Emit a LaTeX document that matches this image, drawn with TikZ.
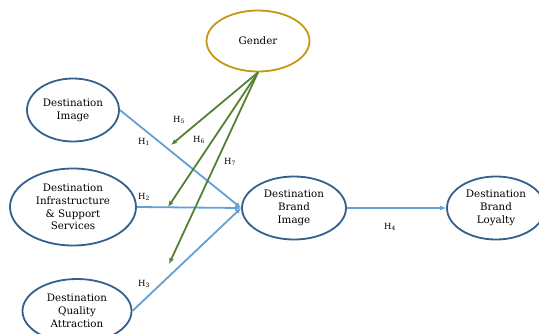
\documentclass[tikz,border=0pt]{standalone}
\usepackage{fontspec}
\setmainfont{DejaVu Serif}
\usetikzlibrary{shapes.geometric,arrows.meta}
\definecolor{rim}{RGB}{52,96,140}
\definecolor{gold}{RGB}{196,152,20}
\definecolor{lineblue}{RGB}{98,160,214}
\definecolor{leaf}{RGB}{84,130,53}
\begin{document}
\begin{tikzpicture}[x=1pt, y=-1pt,
  construct/.style={ellipse, draw=rim, line width=1.8pt, inner sep=0pt, align=center,
    font=\fontsize{10.3}{12.8}\selectfont},
  link/.style={draw=lineblue, line width=1.8pt, -{Latex[length=6pt,width=5pt]}},
  moder/.style={draw=leaf, line width=1.8pt, -{Latex[length=6pt,width=5pt]}},
  hyp/.style={font=\fontsize{8.5}{10}\selectfont}]

\useasboundingbox (0,0) rectangle (539,333);

\node [construct, draw=gold, minimum width=103pt, minimum height=61pt] (gen) at (258,41) {Gender};
\node [construct, minimum width=92pt, minimum height=63pt] (img) at (73,110) {Destination\\Image};
\node [construct, minimum width=126pt, minimum height=77pt] (inf) at (73,207) {Destination\\Infrastructure\\\& Support\\Services};
\node [construct, minimum width=109pt, minimum height=64pt] (qua) at (77,311) {Destination\\Quality\\Attraction};
\node [construct, minimum width=104pt, minimum height=63pt] (bim) at (294,208) {Destination\\Brand\\Image};
\node [construct, minimum width=98pt, minimum height=63pt] (loy) at (496,208) {Destination\\Brand\\Loyalty};

\coordinate (m5) at (171,145);
\coordinate (m6) at (168,207);
\coordinate (m7) at (169,264);

\draw [link] (img.east) -- (bim.west);
\draw [link] (inf.east) -- (bim.west);
\draw [link] (qua.east) -- (bim.west);
\draw [link] (bim.east) -- (loy.west);

\draw [moder] (gen.south) -- (m5);
\draw [moder] (gen.south) -- (m6);
\draw [moder] (gen.south) -- (m7);

\node [hyp] at (179,120) {H\textsubscript{5}};
\node [hyp] at (144,142) {H\textsubscript{1}};
\node [hyp] at (199,140) {H\textsubscript{6}};
\node [hyp] at (230,162) {H\textsubscript{7}};
\node [hyp] at (144,197) {H\textsubscript{2}};
\node [hyp] at (144,284) {H\textsubscript{3}};
\node [hyp] at (390,227) {H\textsubscript{4}};
\end{tikzpicture}
\end{document}
